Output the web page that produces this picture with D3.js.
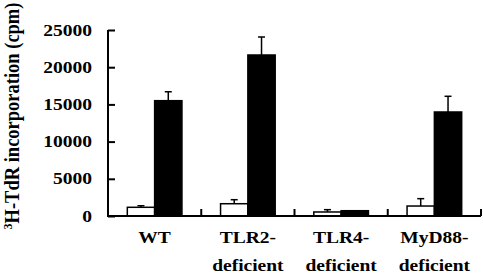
<!DOCTYPE html>
<html>
<head>
<meta charset="utf-8">
<script src="https://cdn.jsdelivr.net/npm/d3@7"></script>
<style>
  body { margin: 0; background: #fff; }
  text { font-family: "Liberation Serif", "Times New Roman", serif; font-weight: bold; fill: #000; }
</style>
</head>
<body>
<div id="chart"></div>
<script>
// dades
const groups = ["WT", "TLR2-deficient", "TLR4-deficient", "MyD88-deficient"];
const labelLines = [["WT"], ["TLR2-", "deficient"], ["TLR4-", "deficient"], ["MyD88-", "deficient"]];
const series = ["white", "black"];
const whiteValues = [1170, 1650, 540, 1340];
const whiteErrors = [210, 540, 310, 990];
const blackValues = [15500, 21640, 710, 13980];
const blackErrors = [1200, 2420, 0, 2110];
const yTicks = [0, 5000, 10000, 15000, 20000, 25000];

const width = 483, height = 278;
const margin = { top: 30, right: 2, bottom: 62, left: 108 };
const stretch = 1.22; // el gràfic original està estirat horitzontalment

const svg = d3.select("#chart").append("svg")
  .attr("width", width)
  .attr("height", height);

const x = d3.scaleBand()
  .domain(groups)
  .range([margin.left, width - margin.right])
  .paddingInner(0)
  .paddingOuter(0);

const xSub = d3.scaleBand()
  .domain(series)
  .range([0, x.bandwidth()])
  .paddingOuter(0.707)
  .paddingInner(0);

const y = d3.scaleLinear()
  .domain([0, 25000])
  .range([height - margin.bottom, margin.top]);

const rows = groups.map((g, i) => [
  { g, s: "white", v: whiteValues[i], e: whiteErrors[i] },
  { g, s: "black", v: blackValues[i], e: blackErrors[i] }
]).flat();

// barres d'error (darrere de les barres)
const err = svg.append("g").attr("stroke", "#000").attr("stroke-width", 1.5);
rows.filter(d => d.e > 0).forEach(d => {
  const cx = x(d.g) + xSub(d.s) + xSub.bandwidth() / 2;
  err.append("line").attr("x1", cx).attr("x2", cx).attr("y1", y(d.v)).attr("y2", y(d.v + d.e));
  err.append("line").attr("x1", cx - 3.5).attr("x2", cx + 3.5).attr("y1", y(d.v + d.e)).attr("y2", y(d.v + d.e));
});

// barres
svg.append("g").selectAll("rect")
  .data(rows)
  .enter()
  .append("rect")
  .attr("x", d => x(d.g) + xSub(d.s))
  .attr("y", d => y(d.v))
  .attr("width", xSub.bandwidth())
  .attr("height", d => y(0) - y(d.v))
  .attr("fill", d => d.s === "white" ? "#fff" : "#000")
  .attr("stroke", "#000")
  .attr("stroke-width", 1.5);

// eix Y
const yAxis = svg.append("g")
  .attr("transform", `translate(${margin.left},0)`)
  .call(d3.axisRight(y).tickValues(yTicks).tickSize(7).tickFormat(""));
yAxis.select(".domain").attr("stroke-width", 2).attr("d", `M0,${y(25000)}V${y(0)}`);
yAxis.selectAll(".tick line").attr("stroke-width", 2);

svg.append("g").selectAll("text.ytick")
  .data(yTicks)
  .enter()
  .append("text")
  .attr("class", "ytick")
  .attr("text-anchor", "end")
  .attr("transform", d => `translate(92,${y(d) + 5.5}) scale(${stretch},1)`)
  .style("font-size", "16px")
  .text(d => d);

// eix X
const xAxis = svg.append("g")
  .attr("transform", `translate(0,${y(0)})`);
xAxis.append("line")
  .attr("x1", margin.left - 1).attr("x2", width - margin.right)
  .attr("stroke", "#000").attr("stroke-width", 2);
xAxis.selectAll("line.sep")
  .data(groups)
  .enter()
  .append("line")
  .attr("class", "sep")
  .attr("x1", d => x(d) + x.bandwidth()).attr("x2", d => x(d) + x.bandwidth())
  .attr("y1", 0).attr("y2", -7)
  .attr("stroke", "#000").attr("stroke-width", 2);

// etiquetes de categoria
groups.forEach((g, i) => {
  labelLines[i].forEach((t, j) => {
    svg.append("text")
      .attr("text-anchor", "middle")
      .attr("transform", `translate(${x(g) + x.bandwidth() / 2},${243 + j * 28}) scale(${stretch},1)`)
      .style("font-size", "16px")
      .text(t);
  });
});

// títol eix Y
const yl = svg.append("text")
  .attr("text-anchor", "middle")
  .attr("transform", `translate(19,116) rotate(-90) scale(1,1.1)`)
  .style("font-size", "18.5px");
yl.append("tspan").attr("baseline-shift", "super").style("font-size", "12px").text("3");
yl.append("tspan").text("H-TdR incorporation (cpm)");
</script>
</body>
</html>
